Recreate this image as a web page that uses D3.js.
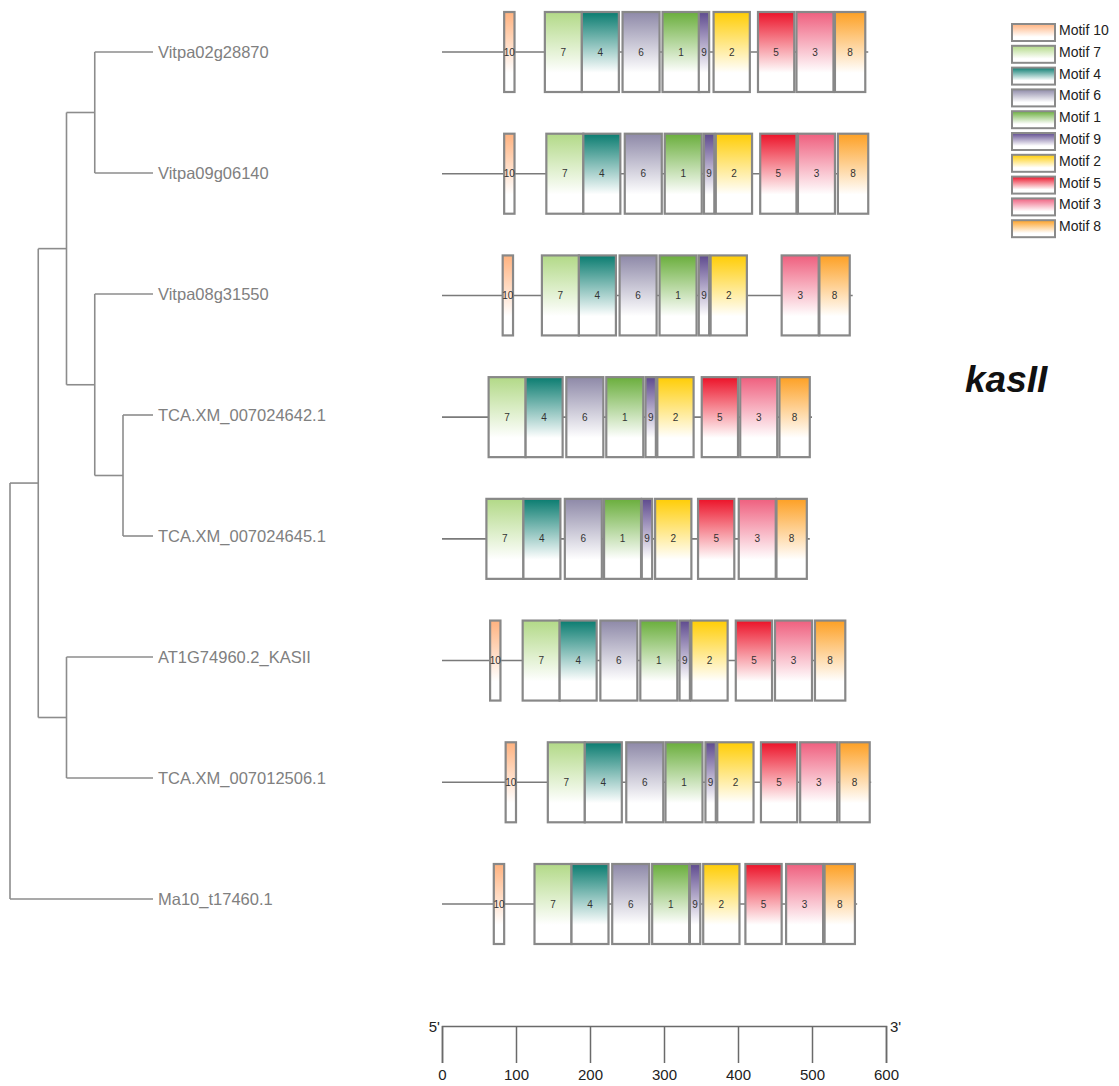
<!DOCTYPE html>
<html>
<head>
<meta charset="utf-8">
<script src="https://cdn.jsdelivr.net/npm/d3@7/dist/d3.min.js"></script>
<style>
  html, body { margin: 0; padding: 0; background: #fff; }
  svg { display: block; font-family: "Liberation Sans", Arial, sans-serif; }
</style>
</head>
<body>
<svg id="chart" width="1119" height="1086"></svg>
<script>
// ---- data ----
const genes = [
  "Vitpa02g28870", "Vitpa09g06140", "Vitpa08g31550", "TCA.XM_007024642.1",
  "TCA.XM_007024645.1", "AT1G74960.2_KASII", "TCA.XM_007012506.1", "Ma10_t17460.1"
];
// protein lengths (aa)
const proteinLengths = [576, 577, 555, 500, 497, 546, 580, 561];

// motif legend order, colours and motif widths (aa)
const motifIds = [10, 7, 4, 6, 1, 9, 2, 5, 3, 8];
const motifColors = ["#ffb27f", "#b2d987", "#0a7c70", "#8e89a8", "#6aae3c",
                     "#5e4a8e", "#ffcd05", "#ec1228", "#ef5f7e", "#fda024"];
const motifWidths = [14, 50, 50, 50, 50, 14, 49, 49, 50, 41];

// motif start positions per gene, in legend order (null = motif absent)
const motifStarts = [
  [84, 139, 189, 244, 298, 347, 367, 427, 479, 531],
  [84, 141, 191, 247, 301, 354, 370, 430, 481, 535],
  [82, 135, 185, 240, 294, 347, 363, null, 459, 510],
  [null, 63, 113, 168, 222, 275, 291, 351, 403, 456],
  [null, 60, 110, 166, 219, 270, 288, 346, 401, 452],
  [65, 109, 159, 214, 268, 321, 337, 397, 450, 504],
  [86, 143, 193, 249, 302, 356, 372, 431, 484, 537],
  [70, 125, 175, 230, 284, 335, 353, 410, 465, 517]
];

// tree topology (leaf = gene index)
const treeTopology = [[[[0, 1], [2, [3, 4]]], [5, 6]], 7];

const axisTicks = [0, 100, 200, 300, 400, 500, 600];
const title = "kasII";

// ---- layout ----
const svg = d3.select("#chart");
const x = d3.scaleLinear().domain([0, 600]).range([442, 886]);
const yRow = d3.scaleLinear().domain([0, genes.length - 1]).range([52, 904]);
const yLeaf = d3.scaleLinear().domain([0, genes.length - 1]).range([52, 899]);
const boxH = 80;

// gradients: full colour at the top fading to white
const defs = svg.append("defs");
motifIds.forEach((m, i) => {
  const g = defs.append("linearGradient")
    .attr("id", "grad" + m).attr("x1", 0).attr("y1", 0).attr("x2", 0).attr("y2", 1);
  g.append("stop").attr("offset", "0%").attr("stop-color", motifColors[i]);
  g.append("stop").attr("offset", "76%").attr("stop-color", "#ffffff");
  g.append("stop").attr("offset", "100%").attr("stop-color", "#ffffff");
});

// ---- phylogenetic tree ----
const root = d3.hierarchy(treeTopology, d => Array.isArray(d) ? d : null);
const maxDepth = d3.max(root.descendants().filter(d => d.children), d => d.depth);
const xTree = d3.scaleLinear().domain([0, maxDepth]).range([10, 123]);
const leafX = 153;
root.eachAfter(n => {
  if (n.children) {
    n.px = xTree(n.depth);
    n.py = d3.mean([d3.min(n.children, c => c.py), d3.max(n.children, c => c.py)]);
  } else {
    n.px = leafX;
    n.py = yLeaf(n.data);
  }
});
const treeG = svg.append("g")
  .attr("fill", "none").attr("stroke", "#8c8c8c").attr("stroke-width", 1.6);
root.descendants().filter(n => n.children).forEach(n => {
  const ys = n.children.map(c => c.py);
  treeG.append("line").attr("x1", n.px).attr("x2", n.px)
    .attr("y1", d3.min(ys)).attr("y2", d3.max(ys));
  n.children.forEach(c => {
    treeG.append("line").attr("x1", n.px).attr("x2", c.px)
      .attr("y1", c.py).attr("y2", c.py);
  });
});
svg.append("g").selectAll("text")
  .data(root.leaves())
  .join("text")
  .attr("x", leafX + 5)
  .attr("y", d => d.py)
  .attr("dy", "0.35em")
  .attr("font-size", 16.5)
  .attr("fill", "#808080")
  .text(d => genes[d.data]);

// ---- motif diagram ----
const rows = svg.append("g").selectAll("g")
  .data(genes.map((g, i) => ({ gene: g, i })))
  .join("g")
  .attr("transform", d => `translate(0,${yRow(d.i)})`);

rows.append("line")
  .attr("x1", x(0)).attr("x2", d => x(proteinLengths[d.i]))
  .attr("y1", 0).attr("y2", 0)
  .attr("stroke", "#7a7a7a").attr("stroke-width", 1.6);

rows.each(function (d) {
  const motifs = motifIds.map((m, k) => ({ m, k, start: motifStarts[d.i][k] }))
    .filter(o => o.start !== null);
  const g = d3.select(this);
  const mg = g.selectAll("g.motif").data(motifs).join("g").attr("class", "motif");
  mg.append("rect")
    .attr("x", o => x(o.start))
    .attr("y", -boxH / 2)
    .attr("width", o => x(o.start + motifWidths[o.k]) - x(o.start))
    .attr("height", boxH)
    .attr("fill", o => `url(#grad${o.m})`)
    .attr("stroke", "#888").attr("stroke-width", 2.2);
  mg.append("text")
    .attr("x", o => (x(o.start) + x(o.start + motifWidths[o.k])) / 2)
    .attr("y", 0).attr("dy", "0.35em")
    .attr("text-anchor", "middle")
    .attr("font-size", 10)
    .attr("fill", "#333")
    .text(o => o.m);
});

// ---- scale axis ----
const axisY = 1026;
const axisG = svg.append("g")
  .attr("transform", `translate(0,${axisY})`)
  .call(d3.axisBottom(x).tickValues(axisTicks).tickSize(37).tickSizeOuter(37).tickPadding(6));
axisG.selectAll("path, line").attr("stroke", "#6a6a6a").attr("stroke-width", 1.5);
axisG.selectAll("text").attr("font-size", 15).attr("fill", "#222")
  .attr("font-family", "'Liberation Sans', Arial, sans-serif");
svg.append("text").attr("x", x(0) - 2).attr("y", axisY + 6)
  .attr("text-anchor", "end").attr("font-size", 15).attr("fill", "#222").text("5'");
svg.append("text").attr("x", x(600) + 4).attr("y", axisY + 6)
  .attr("text-anchor", "start").attr("font-size", 15).attr("fill", "#222").text("3'");

// ---- legend ----
const legend = svg.append("g").attr("transform", "translate(1012,24)");
const li = legend.selectAll("g").data(motifIds).join("g")
  .attr("transform", (d, i) => `translate(0,${i * 21.8})`);
li.append("rect")
  .attr("width", 43).attr("height", 17)
  .attr("fill", d => `url(#grad${d})`)
  .attr("stroke", "#8a8a8a").attr("stroke-width", 2);
li.append("text")
  .attr("x", 47).attr("y", 6).attr("dy", "0.35em")
  .attr("font-size", 14).attr("fill", "#222")
  .text(d => "Motif " + d);

// ---- title ----
svg.append("text")
  .attr("x", 965).attr("y", 392)
  .attr("font-size", 37).attr("font-weight", "bold").attr("font-style", "italic")
  .attr("fill", "#111")
  .text(title);
</script>
</body>
</html>
